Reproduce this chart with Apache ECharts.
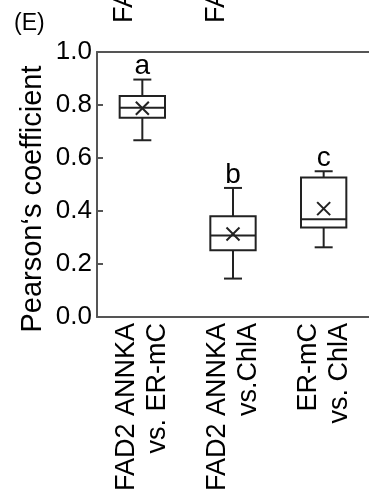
<!DOCTYPE html>
<html>
<head>
<meta charset="utf-8">
<script src="https://cdn.jsdelivr.net/npm/echarts@6/dist/echarts.min.js"></script>
<style>
html,body{margin:0;padding:0;background:#fff;}
#c{width:369px;height:497px;}
</style>
</head>
<body>
<div id="c"></div>
<script>
const categories = ['FAD2 ANNKA\nvs. ER-mC', 'FAD2 ANNKA\nvs.ChlA', 'ER-mC\nvs. ChlA'];
const whiskerLow = [0.667, 0.145, 0.263];
const q1 = [0.752, 0.252, 0.338];
const median = [0.790, 0.308, 0.369];
const q3 = [0.834, 0.380, 0.526];
const whiskerHigh = [0.896, 0.487, 0.550];
const mean = [0.788, 0.313, 0.409];
const letters = ['a', 'b', 'c'];
const yTicks = [0, 0.2, 0.4, 0.6, 0.8, 1.0];

const FONT = 'Liberation Sans, Arial, sans-serif';
const LINE = '#222';

const data = categories.map((c, i) => [i, whiskerLow[i], q1[i], median[i], q3[i], whiskerHigh[i], mean[i]]);

function renderItem(params, api) {
  const i = api.value(0);
  const x = api.coord([i, 0])[0];
  const y = v => api.coord([i, v])[1];
  const bw = api.size([1, 0])[0];
  const hb = bw * 0.25;
  const cap = 9;
  const m = 6.5;
  const yl = y(api.value(1)), yq1 = y(api.value(2)), ym = y(api.value(3)), yq3 = y(api.value(4)), yh = y(api.value(5)), ymean = y(api.value(6));
  const ls = { stroke: LINE, lineWidth: 2, fill: null };
  return {
    type: 'group',
    children: [
      { type: 'line', shape: { x1: x, y1: yh, x2: x, y2: yq3 }, style: ls },
      { type: 'line', shape: { x1: x, y1: yq1, x2: x, y2: yl }, style: ls },
      { type: 'line', shape: { x1: x - cap, y1: yh, x2: x + cap, y2: yh }, style: ls },
      { type: 'line', shape: { x1: x - cap, y1: yl, x2: x + cap, y2: yl }, style: ls },
      { type: 'rect', shape: { x: x - hb, y: yq3, width: 2 * hb, height: yq1 - yq3 }, style: { stroke: LINE, lineWidth: 2, fill: '#fff' } },
      { type: 'line', shape: { x1: x - hb, y1: ym, x2: x + hb, y2: ym }, style: ls },
      { type: 'line', shape: { x1: x - m, y1: ymean - m, x2: x + m, y2: ymean + m }, style: ls },
      { type: 'line', shape: { x1: x - m, y1: ymean + m, x2: x + m, y2: ymean - m }, style: ls },
      { type: 'text', x: x, y: yh + 1, style: { text: letters[i], font: '28px ' + FONT, fill: '#000', textAlign: 'center', textVerticalAlign: 'bottom' } }
    ]
  };
}

const chart = echarts.init(document.getElementById('c'), null, { renderer: 'canvas' });
chart.setOption({
  animation: false,
  backgroundColor: '#fff',
  grid: { left: 97, top: 52, width: 274, height: 265, show: false },
  xAxis: [{
    type: 'category', data: categories, boundaryGap: true,
    axisLine: { show: true, lineStyle: { color: '#555', width: 2 } },
    axisTick: { show: false },
    axisLabel: { rotate: 90, fontSize: 27, fontFamily: FONT, color: '#000', margin: 6, lineHeight: 31, interval: 0 }
  }, {
    type: 'category', data: categories, position: 'top',
    axisLine: { show: true, lineStyle: { color: '#555', width: 2 } },
    axisTick: { show: false }, axisLabel: { show: false }
  }],
  yAxis: {
    type: 'value', min: 0, max: 1, interval: 0.2,
    axisLine: { show: true, lineStyle: { color: '#555', width: 2 } },
    axisTick: { show: true, inside: true, length: 6, lineStyle: { color: '#555', width: 2 } },
    axisLabel: { fontSize: 26, fontFamily: FONT, color: '#000', margin: 5, formatter: v => yTicks.includes(+v.toFixed(1)) ? v.toFixed(1) : '' },
    splitLine: { show: false }
  },
  graphic: [
    { type: 'text', left: 14, top: 12, style: { text: '(E)', font: '23px ' + FONT, fill: '#000' } },
    { type: 'text', x: 33, y: 199, rotation: Math.PI / 2, style: { text: 'Pearson\u2018s coefficient', font: '29px ' + FONT, fill: '#000', textAlign: 'center', textVerticalAlign: 'middle' } },
    { type: 'text', x: 125, y: 23, rotation: Math.PI / 2, style: { text: 'FAD2 ANNKA', font: '27px ' + FONT, fill: '#000', textAlign: 'left', textVerticalAlign: 'middle' } },
    { type: 'text', x: 217, y: 23, rotation: Math.PI / 2, style: { text: 'FAD2 ANNKA', font: '27px ' + FONT, fill: '#000', textAlign: 'left', textVerticalAlign: 'middle' } }
  ],
  series: [{
    type: 'custom', renderItem: renderItem, data: data, clip: false,
    encode: { x: 0, y: [1, 2, 3, 4, 5, 6] }
  }]
});
</script>
</body>
</html>
